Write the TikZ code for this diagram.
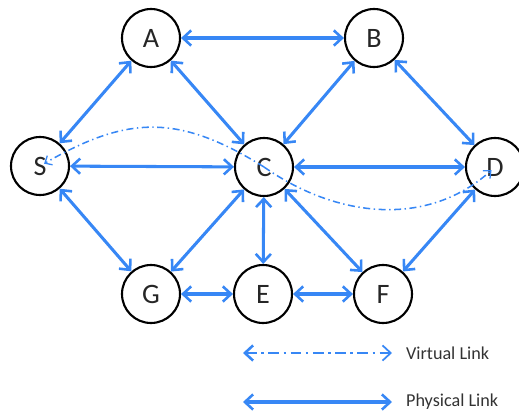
\documentclass[tikz,border=0pt]{standalone}
\usepackage{fontspec}
\setmainfont{Carlito}
\usetikzlibrary{arrows.meta}
\definecolor{linkblue}{RGB}{55,135,245}

\begin{document}
\begin{tikzpicture}[x=0.03cm,y=-0.03cm,
    router/.style={circle,draw=black,line width=1.8pt,minimum size=1.74cm,inner sep=0pt,
        font=\fontsize{24}{28}\selectfont,text=black!85},
    phys/.style={linkblue,line width=2.6pt,
        {Straight Barb[length=7pt,width=13pt,line width=2.2pt]}-{Straight Barb[length=7pt,width=13pt,line width=2.2pt]}},
    virt/.style={linkblue,line width=1.3pt,dash pattern=on 6pt off 3pt on 1.2pt off 3pt,
        -{Straight Barb[length=5pt,width=9pt,line width=1.1pt]}},
    legvirt/.style={linkblue,line width=2.2pt,dash pattern=on 9pt off 4pt on 2pt off 4pt,
        {Straight Barb[length=7pt,width=13pt,line width=2.2pt]}-{Straight Barb[length=7pt,width=13pt,line width=1.5pt]}},
    legtext/.style={anchor=west,font=\fontsize{15.5}{18}\selectfont,text=black!80}]
    \clip (0,0) rectangle (519,412);
    \useasboundingbox (0,0) rectangle (519,412);

    %Noder
        \node[router] (A) at (151,38) {A};
        \node[router] (B) at (374,38) {B};
        \node[router] (S) at (40,166) {S};
        \node[router] (C) at (264,167) {C};
        \node[router] (D) at (495,167) {D};
        \node[router] (G) at (151,294) {G};
        \node[router] (E) at (263,294) {E};
        \node[router] (F) at (383,294) {F};

    %Fysiske links
        \draw[phys] (A) -- (B);
        \draw[phys] (A) -- (S);
        \draw[phys] (A) -- (C);
        \draw[phys] (B) -- (C);
        \draw[phys] (B) -- (D);
        \draw[phys] (S) -- (C);
        \draw[phys] (C) -- (D);
        \draw[phys] (S) -- (G);
        \draw[phys] (G) -- (C);
        \draw[phys] (C) -- (E);
        \draw[phys] (C) -- (F);
        \draw[phys] (G) -- (E);
        \draw[phys] (E) -- (F);
        \draw[phys] (F) -- (D);

    %Virtuelle links
        \draw[virt,shorten >=4pt] (C.center) to[out=148,in=30,looseness=1.15] (S.center);
        \draw[virt,shorten >=4pt] (C.center) to[out=-35,in=222] (D.center);

    %Forklaring
        \coordinate (v1) at (243,353);
        \coordinate (v2) at (392,353);
        \coordinate (p1) at (243,402);
        \coordinate (p2) at (392,402);
        \draw[legvirt] (v1) -- (v2);
        \draw[phys] (p1) -- (p2);
        \node[legtext] (vtxt) at (402,353) {Virtual Link};
        \node[legtext] (ptxt) at (402,402) {Physical Link};

\end{tikzpicture}
\end{document}
